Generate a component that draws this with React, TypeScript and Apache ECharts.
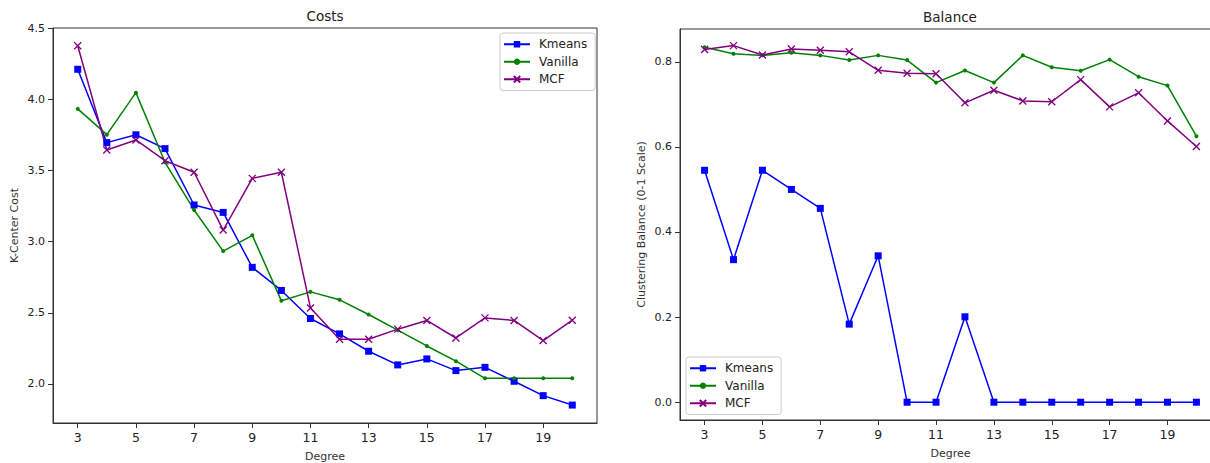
import React, { useEffect, useRef } from "react";
import * as echarts from "echarts";

const degrees = [3, 4, 5, 6, 7, 8, 9, 10, 11, 12, 13, 14, 15, 16, 17, 18, 19, 20];
const xTicks = [3, 5, 7, 9, 11, 13, 15, 17, 19];

const kmeansCost = [4.21, 3.695, 3.75, 3.653, 3.257, 3.205, 2.819, 2.657, 2.46, 2.352, 2.23, 2.134, 2.176, 2.094, 2.117, 2.019, 1.918, 1.852];
const vanillaCost = [3.932, 3.751, 4.046, 3.557, 3.222, 2.933, 3.044, 2.584, 2.647, 2.591, 2.488, 2.378, 2.267, 2.16, 2.04, 2.04, 2.04, 2.04];
const mcfCost = [4.375, 3.643, 3.714, 3.568, 3.487, 3.081, 3.444, 3.487, 2.534, 2.314, 2.314, 2.385, 2.446, 2.323, 2.464, 2.446, 2.305, 2.448];
const costTicks = [2.0, 2.5, 3.0, 3.5, 4.0, 4.5];

const kmeansBal = [0.545, 0.335, 0.545, 0.5, 0.4555, 0.1835, 0.344, 0, 0, 0.2007, 0, 0, 0, 0, 0, 0, 0, 0];
const vanillaBal = [0.834, 0.819, 0.815, 0.821, 0.815, 0.804, 0.815, 0.804, 0.751, 0.7795, 0.751, 0.815, 0.787, 0.779, 0.805, 0.765, 0.744, 0.625];
const mcfBal = [0.829, 0.838, 0.816, 0.83, 0.827, 0.8235, 0.78, 0.773, 0.772, 0.7035, 0.733, 0.708, 0.706, 0.758, 0.694, 0.727, 0.661, 0.601];
const balTicks = [0.0, 0.2, 0.4, 0.6, 0.8];

const BLUE = "#0000ff";
const GREEN = "#008000";
const PURPLE = "#800080";
const FONT = "DejaVu Sans";
const XMARK = "path://M0,0L10,10M0,10L10,0";

function pts(arr: number[]) {
  return degrees.map((d, i) => [d, arr[i]]);
}

export default function App() {
  const ref = useRef<HTMLDivElement>(null);
  useEffect(() => {
    if (!ref.current) return;
    const chart = echarts.init(ref.current, undefined, { renderer: "svg" });
    const axisLine = { show: true, onZero: false, lineStyle: { color: "#333", width: 1 } };
    const xAxis = (gridIndex: number) => ({
      type: "value",
      gridIndex,
      min: 2.15,
      max: 20.85,
      name: "Degree",
      nameLocation: "middle",
      nameGap: 28,
      nameTextStyle: { fontFamily: FONT, fontSize: 11, color: "#333" },
      axisLine,
      axisTick: { show: true, length: 5, customValues: xTicks, lineStyle: { color: "#333" } },
      axisLabel: { customValues: xTicks, fontFamily: FONT, fontSize: 12.5, color: "#222", margin: 8 },
      splitLine: { show: false },
    });
    const seriesFor = (xi: number, k: number[], v: number[], m: number[]) => [
      {
        name: "Kmeans", type: "line", xAxisIndex: xi, yAxisIndex: xi, data: pts(k),
        symbol: "rect", symbolSize: 7, color: BLUE,
        lineStyle: { color: BLUE, width: 1.5 }, itemStyle: { color: BLUE },
      },
      {
        name: "Vanilla", type: "line", xAxisIndex: xi, yAxisIndex: xi, data: pts(v),
        symbol: "circle", symbolSize: 4, color: GREEN,
        lineStyle: { color: GREEN, width: 1.5 }, itemStyle: { color: GREEN },
      },
      {
        name: "MCF", type: "line", xAxisIndex: xi, yAxisIndex: xi, data: pts(m),
        symbol: XMARK, symbolSize: 7, color: PURPLE,
        lineStyle: { color: PURPLE, width: 1.5 },
        itemStyle: { color: PURPLE, borderColor: PURPLE, borderWidth: 1.3 },
      },
    ];
    const legend = (left: number, top: number) => ({
      orient: "vertical",
      left, top,
      width: 90,
      padding: [4, 8, 4, 3],
      itemGap: 3,
      itemWidth: 26,
      itemHeight: 8,
      backgroundColor: "rgba(255,255,255,0.8)",
      borderColor: "#ccc",
      borderWidth: 1,
      borderRadius: 3,
      textStyle: { fontFamily: FONT, fontSize: 12, color: "#222", padding: [0, 0, 0, 4], lineHeight: 14.5 },
      data: ["Kmeans", "Vanilla", "MCF"],
    });
    chart.setOption({
      animation: false,
      backgroundColor: "#fff",
      grid: [
        { left: 53, top: 28, width: 544, height: 395, show: true, borderColor: "#333", borderWidth: 1, containLabel: false, outerBoundsMode: "none" },
        { left: 680, top: 29, width: 541, height: 391, show: true, borderColor: "#333", borderWidth: 1, containLabel: false, outerBoundsMode: "none" },
      ],
      legend: [legend(500, 33), legend(686, 357)],
      graphic: [
        { type: "text", x: 325, y: 16, style: { text: "Costs", font: `13.5px ${FONT}`, fill: "#222", textAlign: "center", textVerticalAlign: "middle" } },
        { type: "text", x: 950, y: 17, style: { text: "Balance", font: `13.5px ${FONT}`, fill: "#222", textAlign: "center", textVerticalAlign: "middle" } },
      ],
      xAxis: [xAxis(0), xAxis(1)],
      yAxis: [
        {
          type: "value", gridIndex: 0, min: 1.726, max: 4.5,
          name: "K-Center Cost", nameLocation: "middle", nameGap: 33,
          nameTextStyle: { fontFamily: FONT, fontSize: 11, color: "#333" },
          axisLine,
          axisTick: { show: true, length: 5, customValues: costTicks, lineStyle: { color: "#333" } },
          axisLabel: { customValues: costTicks, formatter: (v: number) => v.toFixed(1), fontFamily: FONT, fontSize: 11, color: "#222", margin: 8 },
          splitLine: { show: false },
        },
        {
          type: "value", gridIndex: 1, min: -0.0418, max: 0.877,
          name: "Clustering Balance (0-1 Scale)", nameLocation: "middle", nameGap: 33,
          nameTextStyle: { fontFamily: FONT, fontSize: 11, color: "#333" },
          axisLine,
          axisTick: { show: true, length: 5, customValues: balTicks, lineStyle: { color: "#333" } },
          axisLabel: { customValues: balTicks, formatter: (v: number) => v.toFixed(1), fontFamily: FONT, fontSize: 11, color: "#222", margin: 8 },
          splitLine: { show: false },
        },
      ],
      series: [
        ...seriesFor(0, kmeansCost, vanillaCost, mcfCost),
        ...seriesFor(1, kmeansBal, vanillaBal, mcfBal),
      ],
    });
    return () => chart.dispose();
  }, []);
  return (
    <div
      ref={ref}
      style={{ position: "fixed", left: 0, top: 0, width: 1210, height: 463, background: "#fff" }}
    />
  );
}
